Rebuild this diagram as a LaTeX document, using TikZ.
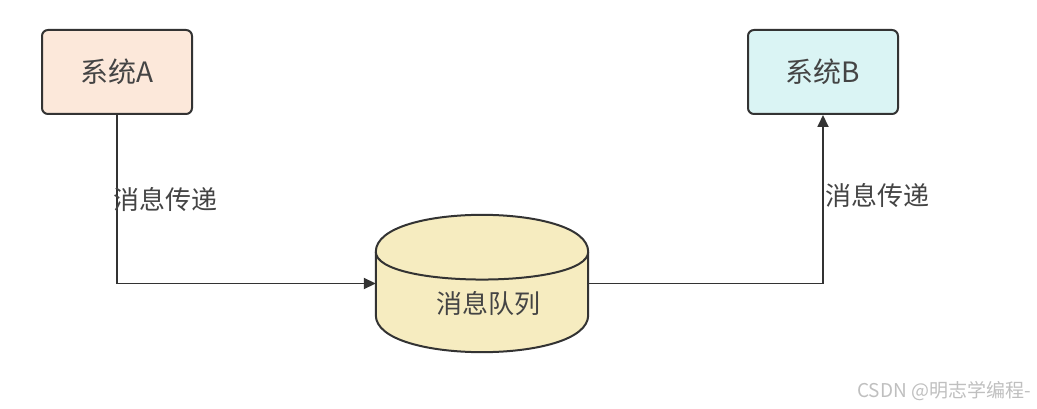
\documentclass[tikz,border=0pt]{standalone}
\usepackage{fontspec}
\setmainfont{Noto Sans CJK SC}
\usepackage{xcolor}
\usepackage{tikz}
\usetikzlibrary{arrows.meta,positioning}

\definecolor{peach}{HTML}{FCE8DA}
\definecolor{paleteal}{HTML}{DAF4F4}
\definecolor{paleyellow}{HTML}{F6ECC0}
\definecolor{linegray}{HTML}{333333}
\definecolor{textgray}{HTML}{444444}

\begin{document}
\begin{tikzpicture}[
    x=1pt,y=-1pt,
    sysbox/.style={draw=linegray, line width=2pt, rounded corners=6pt, align=center,
                   minimum width=150pt, minimum height=84pt, inner sep=0pt,
                   font=\fontsize{28}{32}\selectfont, text=textgray},
    arrow/.style={-{Triangle[length=12pt,width=11pt]}, line width=1.8pt, draw=linegray},
    msglabel/.style={font=\fontsize{26}{30}\selectfont, text=textgray, inner sep=0pt}
]
\useasboundingbox (0,0) rectangle (1037,409);

\node[sysbox, fill=peach] (sysA) at (117,72) {系统A};
\node[sysbox, fill=paleteal] (sysB) at (823,72) {系统B};

% message queue cylinder
\node[minimum width=212pt, minimum height=137pt, inner sep=0pt] (mq) at (482,283.5) {};
\filldraw[fill=paleyellow, draw=linegray, line width=2pt]
  (mq.north west) ++(0,37) .. controls ++(0,-49.3) and ++(0,-49.3) .. ([yshift=-37pt]mq.north east)
  -- ([yshift=37pt]mq.south east)
  .. controls ++(0,49.3) and ++(0,49.3) .. ([yshift=37pt]mq.south west) -- cycle;
\draw[draw=linegray, line width=2pt]
  ([yshift=-37pt]mq.north west) .. controls ++(0,37) and ++(0,37) .. ([yshift=-37pt]mq.north east);
\node[font=\fontsize{26}{30}\selectfont, text=textgray] (mqtext) at (488,304) {消息队列};

\draw[arrow] (sysA.south) |- (mq.west);
\draw[arrow] (mq.east) -| (sysB.south);

\node[msglabel, anchor=west] (lblA) at (113,199) {消息传递};
\node[msglabel, anchor=west] (lblB) at (825,195) {消息传递};

\node[font=\fontsize{19}{22}\selectfont, text=black!25, anchor=east, inner sep=0pt] (mark) at (1031,391) {CSDN @明志学编程-};
\end{tikzpicture}
\end{document}
